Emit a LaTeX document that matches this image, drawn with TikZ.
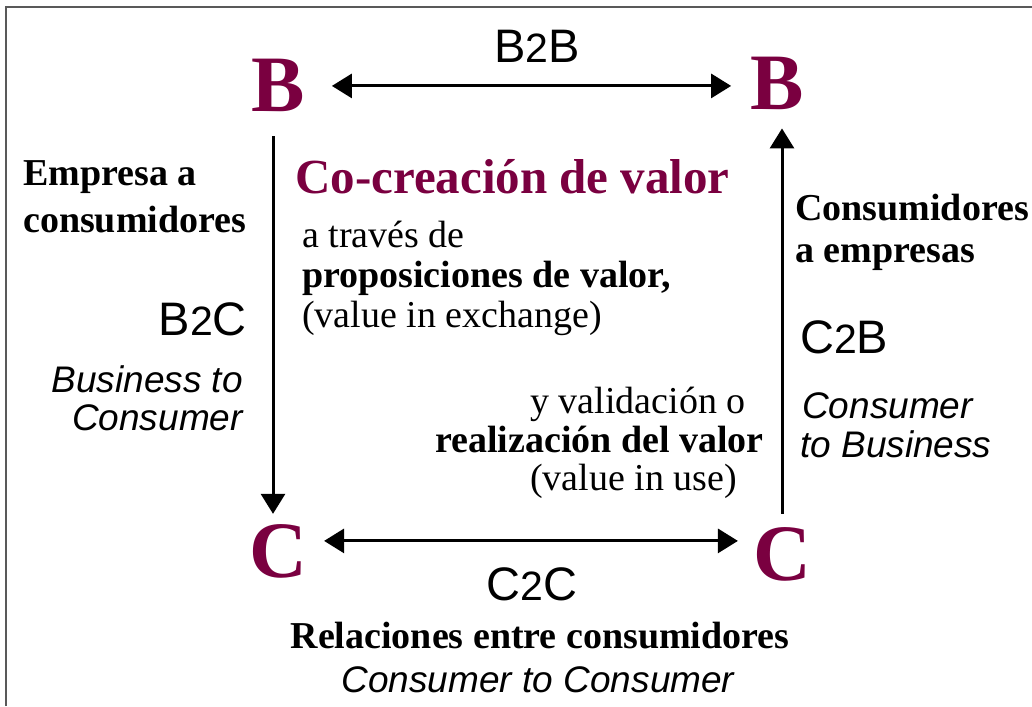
\documentclass[tikz,border=0pt]{standalone}
\usepackage{fontspec}
\setmainfont{Liberation Serif}
\setsansfont{Liberation Sans}
\usetikzlibrary{arrows.meta}
\usetikzlibrary{positioning}
\definecolor{vino}{RGB}{122,0,64}
\newcommand{\dos}{{\fontsize{41}{41}\selectfont 2}}
\tikzset{letra/.style={font=\fontsize{80}{88}\selectfont\bfseries, text=vino, inner sep=0pt},
         sigla/.style={font=\sffamily\fontsize{47}{50}\selectfont, inner sep=0pt},
         ingles/.style={font=\sffamily\itshape\fontsize{37}{42}\selectfont, inner sep=0pt},
         texto/.style={font=\fontsize{38}{42}\selectfont, inner sep=0pt},
         negrita/.style={font=\fontsize{38}{42}\selectfont\bfseries, inner sep=0pt},
         flecha/.style={line width=3pt, -{Triangle[length=20pt,width=24pt]}},
         doble/.style={line width=3pt, {Triangle[length=20pt,width=24pt]}-{Triangle[length=20pt,width=24pt]}},
         }
\begin{document}
\begin{tikzpicture}[x=1pt, y=-1pt]
\useasboundingbox (0,0) rectangle (1032,706);
\draw[line width=1.5pt, black!65] (6,706) -- (6,7) -- (1032,7);
% the four corners
\node[letra, anchor=base] (bl) at (278,112) {B};
\node[letra, anchor=base] (br) at (777,110) {B};
\node[letra, anchor=base] (cl) at (278,577) {C};
\node[letra, anchor=base] (cr) at (782,580) {C};
% arrows
\draw[doble, shorten >=19pt] ([xshift=27pt]bl.east) -- (bl.east -| br.west);
\path ([yshift=10pt]cl.east) coordinate (cy);
\draw[doble, shorten >=15pt] ([xshift=17pt]cy) -- (cy -| cr.west);
\draw[flecha, shorten <=24pt, shorten >=10pt] ([xshift=-5pt]bl.south) -- ([xshift=-5pt]cl.north);
\draw[flecha, shorten <=13pt, shorten >=18pt] (cr.north) -- (cr.north |- br.south);
% top
\node[sigla, anchor=base] (b2b) at (537,63) {B\dos B};
% centre
\node[font=\fontsize{49}{54}\selectfont\bfseries, text=vino, inner sep=0pt, anchor=base west] (co) at (295,193) {Co-creación de valor};
\node[texto, anchor=base west] (at1) at (302,247) {a través de};
\node[negrita, anchor=base west] (at2) at (302,287) {proposiciones de valor,};
\node[texto, anchor=base west] (at3) at (302,327) {(value in exchange)};
\node[texto, anchor=base west] (yv1) at (530,413) {y validación o};
\node[negrita, anchor=base west] (yv2) at (435,452) {realización del valor};
\node[texto, anchor=base west] (yv3) at (530,490) {(value in use)};
% left side
\node[negrita, anchor=base west] (em1) at (23,185) {Empresa a};
\node[negrita, anchor=base west] (em2) at (23,232) {consumidores};
\node[sigla, anchor=base east] (b2c) at (247,335) {B\dos C};
\node[ingles, anchor=base east] (bc1) at (243,392) {Business to};
\node[ingles, anchor=base east] (bc2) at (243,430) {Consumer};
% right side
\node[negrita, anchor=base west] (ce1) at (795,220) {Consumidores};
\node[negrita, anchor=base west] (ce2) at (795,262) {a empresas};
\node[sigla, anchor=base west] (c2b) at (800,353) {C\dos B};
\node[ingles, anchor=base west] (cb1) at (802,418) {Consumer};
\node[ingles, anchor=base west] (cb2) at (800,457) {to Business};
% bottom
\node[sigla, anchor=base] (c2c) at (532,600) {C\dos C};
\node[negrita, anchor=base] (rel) at (540,648) {Relaciones entre consumidores};
\node[ingles, anchor=base] (cc) at (538,692) {Consumer to Consumer};
\end{tikzpicture}
\end{document}
